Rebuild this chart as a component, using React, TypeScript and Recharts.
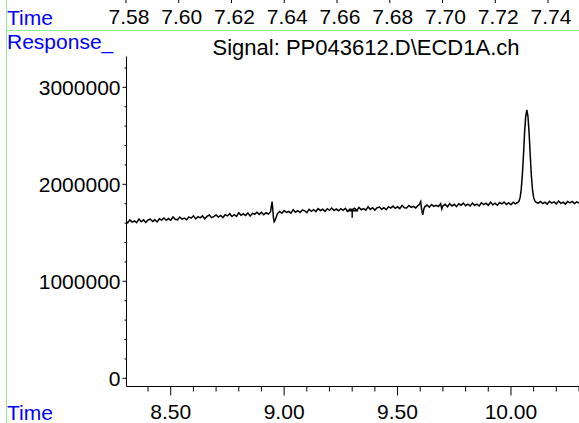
import React from 'react';
import { ComposedChart, Line, Scatter, XAxis, YAxis } from 'recharts';

const FONT = '"Liberation Sans", Arial, Helvetica, sans-serif';
const BLUE = '#0000ff';
const GREEN = '#90ee90';

// time axis left over from the previous trace, at the very top
const topTimeTicks = [7.58, 7.6, 7.62, 7.64, 7.66, 7.68, 7.7, 7.72, 7.74];

// detector trace, one sample every 0.01 min from 8.30, response in thousands
const sampleStart = 8.3;
const sampleStep = 0.01;
const responseK = [
  1624, 1603, 1633, 1610, 1622, 1604, 1641, 1614, 1633, 1607,
  1632, 1642, 1617, 1634, 1612, 1644, 1631, 1653, 1629, 1647,
  1628, 1664, 1639, 1634, 1662, 1641, 1652, 1635, 1664, 1651,
  1675, 1643, 1666, 1654, 1674, 1644, 1669, 1683, 1657, 1667,
  1684, 1662, 1679, 1657, 1686, 1674, 1697, 1668, 1686, 1668,
  1706, 1680, 1696, 1678, 1705, 1672, 1700, 1691, 1712, 1690,
  1711, 1686, 1707, 1694, 1715, 1740, 1628, 1696, 1720, 1701,
  1730, 1711, 1720, 1702, 1738, 1712, 1728, 1710, 1735, 1727,
  1708, 1742, 1722, 1739, 1719, 1749, 1730, 1743, 1721, 1749,
  1732, 1755, 1730, 1745, 1727, 1748, 1732, 1752, 1722, 1745,
  1737, 1753, 1731, 1761, 1738, 1750, 1733, 1768, 1741, 1759,
  1734, 1759, 1766, 1743, 1758, 1738, 1769, 1754, 1775, 1752,
  1768, 1749, 1783, 1759, 1756, 1782, 1762, 1773, 1756, 1780,
  1812, 1695, 1768, 1786, 1764, 1792, 1772, 1783, 1771, 1800,
  1778, 1794, 1768, 1800, 1777, 1794, 1770, 1799, 1783, 1806,
  1779, 1795, 1777, 1806, 1784, 1795, 1776, 1808, 1790, 1806,
  1784, 1816, 1789, 1805, 1784, 1812, 1798, 1817, 1791, 1811,
  1789, 1814, 1799, 1812, 1860, 2090, 2530, 2766, 2530, 2090,
  1865, 1815, 1805, 1822, 1801, 1816, 1796, 1825, 1806, 1819,
  1798, 1827, 1804, 1815, 1796, 1823, 1808, 1824, 1801, 1818, 1806,
];

// extra samples where the trace moves faster than the grid (spikes, peak)
const detailTimes = [
  8.944, 8.947, 8.953, 8.956, 9.598, 9.602, 9.606, 9.611, 9.616, 9.695,
  10.025, 10.035, 10.045, 10.055, 10.065, 10.075, 10.085, 10.095, 10.105, 10.115,
];
const detailK = [
  1780, 1822, 1650, 1614, 1795, 1822, 1745, 1684, 1745, 1745,
  1808, 1825, 1940, 2290, 2700, 2700, 2300, 1945, 1830, 1810,
];

// integration marker "+"
const markerTimes = [9.3];
const markerK = [1728];

const timeTicks = [8.4, 8.5, 8.6, 8.7, 8.8, 8.9, 9.0, 9.1, 9.2, 9.3, 9.4, 9.5, 9.6, 9.7, 9.8, 9.9, 10.0, 10.1, 10.2, 10.3];
const labeledTimes = [8.5, 9.0, 9.5, 10.0];
const responseTicks = [
  0, 200000, 400000, 600000, 800000, 1000000, 1200000, 1400000, 1600000, 1800000,
  2000000, 2200000, 2400000, 2600000, 2800000, 3000000, 3200000,
];

const trace = [
  ...responseK.map((k, i) => ({ t: +(sampleStart + i * sampleStep).toFixed(3), v: k * 1000 })),
  ...detailTimes.map((t, i) => ({ t, v: detailK[i] * 1000 })),
].sort((a, b) => a.t - b.t);

const markers = markerTimes.map((t, i) => ({ t, v: markerK[i] * 1000 }));
const topData = topTimeTicks.map((t) => ({ t, v: 0 }));

function TimeTick(props: any) {
  const { x, y, payload } = props;
  const v = payload.value;
  const major = labeledTimes.some((m) => Math.abs(m - v) < 1e-6);
  return (
    <g>
      <line x1={x} x2={x} y1={y} y2={y + (major ? 9 : 5)} stroke="#000" />
      {major && (
        <text x={x} y={y + 32} textAnchor="middle" fontSize={21} fontFamily={FONT} fill="#000">
          {v.toFixed(2)}
        </text>
      )}
    </g>
  );
}

function ResponseTick(props: any) {
  const { x, y, payload } = props;
  const v = payload.value;
  const major = v % 1000000 === 0;
  return (
    <g>
      <line x1={x - (major ? 4 : 2)} x2={x} y1={y} y2={y} stroke="#000" />
      {major && (
        <text x={x - 6} y={y} dy="0.36em" textAnchor="end" fontSize={21} fontFamily={FONT} fill="#000">
          {v}
        </text>
      )}
    </g>
  );
}

function TopTick(props: any) {
  const { x, y, payload } = props;
  return (
    <g>
      <line x1={x - 3} x2={x - 3} y1={y} y2={y + 3} stroke="#000" />
      <text x={x} y={y + 23.5} textAnchor="middle" fontSize={21} fontFamily={FONT} fill="#000">
        {payload.value.toFixed(2)}
      </text>
    </g>
  );
}

function CrossMark(props: any) {
  const { cx, cy } = props;
  return (
    <g stroke="#000" strokeWidth={1.5}>
      <line x1={cx - 6} x2={cx + 6} y1={cy} y2={cy} />
      <line x1={cx} x2={cx} y1={cy - 2} y2={cy + 7} />
    </g>
  );
}

export default function App() {
  return (
    <div style={{ position: 'absolute', left: 0, top: 0, width: 579, height: 423, overflow: 'hidden', background: '#fff' }}>
      {/* top strip */}
      <div style={{ position: 'absolute', left: 0, top: -10 }}>
        <ComposedChart width={579} height={40} data={topData} margin={{ top: 0, right: 0, bottom: 0, left: 0 }}>
          <XAxis
            dataKey="t"
            type="number"
            domain={[7.5311, 7.7506]}
            ticks={topTimeTicks}
            interval={0}
            height={30}
            tickSize={0}
            tickMargin={0}
            axisLine={false}
            tickLine={false}
            tick={<TopTick />}
            allowDataOverflow
          />
          <YAxis hide domain={[0, 1]} />
          <Line dataKey="v" stroke="none" dot={false} isAnimationActive={false} />
        </ComposedChart>
      </div>

      {/* main signal */}
      <div style={{ position: 'absolute', left: 0, top: 0 }}>
        <ComposedChart width={579} height={423} data={trace} margin={{ top: 56.5, right: 0, bottom: 0, left: 0 }}>
          <XAxis
            dataKey="t"
            type="number"
            domain={[8.305, 10.3]}
            ticks={timeTicks}
            interval={0}
            height={36.5}
            tickSize={0}
            tickMargin={0}
            tickLine={false}
            axisLine={{ stroke: '#000' }}
            tick={<TimeTick />}
            allowDataOverflow
          />
          <YAxis
            type="number"
            domain={[-84500, 3317500]}
            ticks={responseTicks}
            interval={0}
            width={126.5}
            tickSize={0}
            tickMargin={0}
            tickLine={false}
            axisLine={{ stroke: '#000' }}
            tick={<ResponseTick />}
            allowDataOverflow
          />
          <Line type="linear" dataKey="v" stroke="#000" strokeWidth={1.5} dot={false} isAnimationActive={false} />
          <Scatter data={markers} dataKey="v" shape={<CrossMark />} isAnimationActive={false} />
        </ComposedChart>
      </div>

      {/* labels and frame lines */}
      <svg width={579} height={423} style={{ position: 'absolute', left: 0, top: 0, pointerEvents: 'none' }}>
        <line x1={6.5} x2={6.5} y1={0} y2={423} stroke={GREEN} />
        <line x1={6} x2={579} y1={30.5} y2={30.5} stroke={GREEN} />
        <text x={7} y={25} fontSize={21} fontFamily={FONT} fill={BLUE}>Time</text>
        <text x={7} y={49} fontSize={21} fontFamily={FONT} fill={BLUE}>Response_</text>
        <text x={366} y={55} textAnchor="middle" fontSize={22} fontFamily={FONT} fill="#000">
          Signal: PP043612.D\ECD1A.ch
        </text>
        <text x={7} y={420} fontSize={21} fontFamily={FONT} fill={BLUE}>Time</text>
      </svg>
    </div>
  );
}
